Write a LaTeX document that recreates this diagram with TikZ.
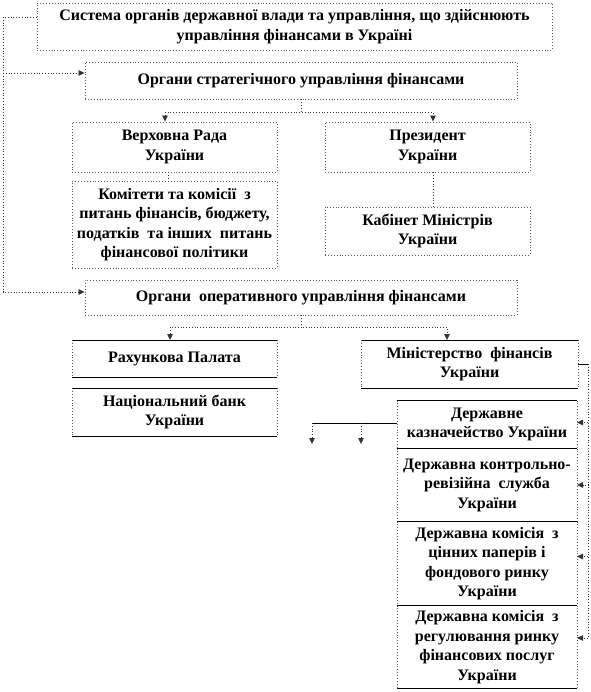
\documentclass[tikz,border=0pt]{standalone}
\usepackage{fontspec}
\setmainfont{Liberation Serif}
\usepackage{tikz}
\usetikzlibrary{arrows.meta,positioning}

\begin{document}
\begin{tikzpicture}[
  x=1pt, y=-1pt,
  font=\fontsize{16}{19.5}\selectfont\bfseries,
  >={Triangle[length=6pt,width=5.5pt]},
  box/.style={
    rectangle, draw=black!65, dotted, line width=0.9pt,
    align=center, inner sep=2pt},
  lowbox/.style={
    box, draw=none, outer sep=0pt,
    append after command={
      (\tikzlastnode.north west) edge[draw=black, solid, line width=1pt] (\tikzlastnode.north east)
      (\tikzlastnode.south west) edge[draw=black, solid, line width=1pt] (\tikzlastnode.south east)
      (\tikzlastnode.north west) edge[draw=black!65, dotted, line width=0.9pt] (\tikzlastnode.south west)
      (\tikzlastnode.north east) edge[draw=black!65, dotted, line width=0.9pt] (\tikzlastnode.south east)}},
  dedge/.style={dotted, line width=0.8pt, draw=black!80},
  sedge/.style={line width=0.8pt, draw=black},
]
\useasboundingbox (0,0) rectangle (590,692);

% ---- Top ----
\node[box, minimum width=515pt, minimum height=47pt] (sys) at (294.5,26.5)
  {Система органів державної влади та управління, що здійснюють\\управління фінансами в Україні};

% ---- Strategic level ----
\node[box, minimum width=432pt, minimum height=37pt] (strat) at (301,80.5)
  {Органи стратегічного управління фінансами};
\node[box, minimum width=205pt, minimum height=50pt] (rada) at (174.5,147)
  {Верховна Рада\\України};
\node[box, minimum width=205pt, minimum height=50pt] (pres) at (427.5,147)
  {Президент\\України};
\node[box, minimum width=205pt, minimum height=87pt] (comm) at (174.5,224.5)
  {Комітети та комісії \ з\\питань фінансів, бюджету,\\податків \ та інших \ питань\\фінансової політики};
\node[box, minimum width=205pt, minimum height=48pt] (cab) at (427.5,231)
  {Кабінет Міністрів\\України};

% ---- Operational level ----
\node[box, minimum width=432pt, minimum height=35pt] (oper) at (301,297.5)
  {Органи \ оперативного управління фінансами};
\node[lowbox, minimum width=205pt, minimum height=37pt] (rakh) at (174.5,358.5)
  {Рахункова Палата};
\node[lowbox, minimum width=205pt, minimum height=48pt] (nbu) at (174.5,412)
  {Національний банк\\України};
\node[lowbox, minimum width=217pt, minimum height=48pt] (minf) at (469.5,364)
  {Міністерство \ фінансів\\України};

% ---- Ministry stack ----
\node[lowbox, minimum width=180pt, minimum height=48pt] (treas) at (487,424.5)
  {Державне\\казначейство України};
\node[lowbox, minimum width=180pt, minimum height=73pt, below=0pt of treas] (ctrl)
  {Державна контрольно-\\ревізійна \ служба\\України};
\node[lowbox, minimum width=180pt, minimum height=84pt, below=0pt of ctrl] (sec)
  {Державна комісія \ з\\цінних паперів і\\фондового ринку\\України};
\node[lowbox, minimum width=180pt, minimum height=83pt, below=0pt of sec] (fin)
  {Державна комісія \ з\\регулювання ринку\\фінансових послуг\\України};

% ---- Left rail ----
\coordinate (lrail) at (3,17);
\draw[dedge, ->] ([yshift=9.5pt]sys.west) -- (lrail) |- ([yshift=7.5pt]strat.west);
\draw[dedge, ->] (lrail) |- ([yshift=5.5pt]oper.west);

% ---- Strategic edges ----
\draw[dedge, ->] (strat.south) -- ++(0,13) -| ([xshift=-9.5pt]rada.north);
\draw[dedge, ->] (strat.south) -- ++(0,13) -| ([xshift=5.5pt]pres.north);
\draw[dedge] ([xshift=-6.5pt]rada.south) -- ([xshift=-6.5pt]comm.north);
\draw[dedge] ([xshift=5.5pt]pres.south) -- ([xshift=5.5pt]cab.north);

% ---- Operational edges ----
\draw[dedge, ->] (oper.south) -- ++(0,12) -| ([xshift=-4.5pt]rakh.north);
\draw[dedge, ->] (oper.south) -- ++(0,12) -| ([xshift=-22.5pt]minf.north);

% ---- Right rail ----
\coordinate (rrail) at (588,364);
\draw[sedge] (minf.east) -- (rrail);
\draw[dedge, ->] (rrail) |- ([yshift=2pt]treas.east);
\draw[dedge, ->] (rrail) |- (ctrl.east);
\draw[dedge, ->] (rrail) |- ([yshift=7pt]sec.east);
\draw[dedge, ->] (rrail) |- ([yshift=9pt]fin.east);

% ---- Treasury branches ----
\coordinate (tj1) at (312,423);
\coordinate (tj2) at (361,423);
\coordinate (td1) at (312,444);
\coordinate (td2) at (361,444);
\draw[sedge] ([yshift=1.5pt]treas.west) -- (tj1);
\draw[dedge, ->] (tj1) -- (td1);
\draw[dedge, ->] (tj2) -- (td2);

\end{tikzpicture}
\end{document}
